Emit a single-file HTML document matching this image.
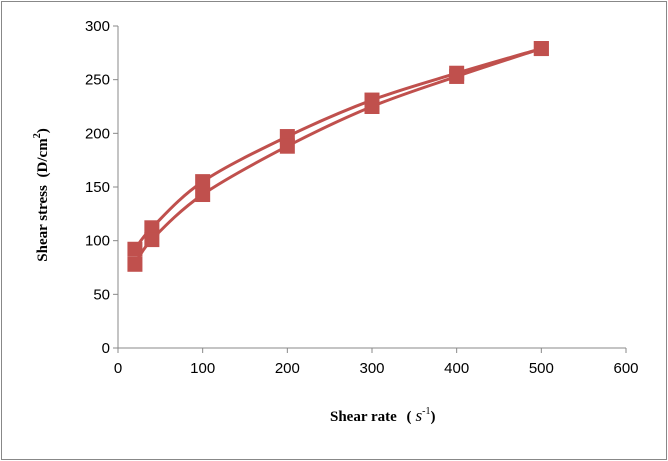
<!DOCTYPE html>
<html><head><meta charset="utf-8"><style>
body{margin:0;background:#fff}
svg{display:block;font-family:"Liberation Serif",serif}
</style></head><body>
<svg width="668" height="461">
<rect x="1.5" y="1.5" width="665" height="458" fill="#fff" stroke="#888"/>
<g id="axes"></g>
<g id="series"></g>
<text x="330" y="421" font-size="15" font-weight="bold">Shear rate <tspan dx="6">(</tspan><tspan dx="4" font-style="italic" font-weight="normal" font-size="17">s</tspan><tspan font-size="10" dy="-7" font-weight="normal">-1</tspan><tspan dy="7">)</tspan></text>
<text transform="translate(47,195) rotate(-90)" text-anchor="middle" font-size="15" font-weight="bold">Shear stress <tspan dx="4">(D/cm</tspan><tspan font-size="10" dy="-7">2</tspan><tspan dy="7">)</tspan></text>
</svg>
<script>
const xVals=[20,40,100,200,300,400,500];
const upSeries=[92,112,155,197,231,256,279];
const downSeries=[78,101,143,188,225,253,279];
const xTicks=[0,100,200,300,400,500,600];
const yTicks=[0,50,100,150,200,250,300];
const NS="http://www.w3.org/2000/svg";
const X0=118,X1=626,Y0=348,Y1=26;
const sx=v=>X0+(v/600)*(X1-X0);
const sy=v=>Y0-(v/300)*(Y0-Y1);
const axes=document.getElementById('axes');
function mk(t,a,p){const e=document.createElementNS(NS,t);for(const k in a)e.setAttribute(k,a[k]);p.appendChild(e);return e;}
let l=mk('line',{x1:X0,y1:Y1,x2:X0,y2:Y0,stroke:'#888'},axes);


l=mk('line',{x1:X0,y1:Y0,x2:X1,y2:Y0,stroke:'#888'},axes);


yTicks.forEach(v=>{const y=sy(v);mk('line',{x1:X0-5,y1:y,x2:X0,y2:y,stroke:'#888'},axes);
const t=mk('text',{x:X0-8,y:y+5,'text-anchor':'end','font-size':15,'font-family':'Liberation Sans'},axes);t.textContent=v;

});
xTicks.forEach(v=>{const x=sx(v);mk('line',{x1:x,y1:Y0,x2:x,y2:Y0+5,stroke:'#888'},axes);
const t=mk('text',{x:x,y:Y0+25,'text-anchor':'middle','font-size':15,'font-family':'Liberation Sans'},axes);t.textContent=v;

});
const sg=document.getElementById('series');
function smooth(pts){let d=`M${pts[0][0]},${pts[0][1]}`;for(let i=0;i<pts.length-1;i++){const p0=pts[i-1]||pts[i],p1=pts[i],p2=pts[i+1],p3=pts[i+2]||p2;
const c1=[p1[0]+(p2[0]-p0[0])/6,p1[1]+(p2[1]-p0[1])/6],c2=[p2[0]-(p3[0]-p1[0])/6,p2[1]-(p3[1]-p1[1])/6];
d+=`C${c1[0]},${c1[1]} ${c2[0]},${c2[1]} ${p2[0]},${p2[1]}`;}return d;}
[[upSeries,'up'],[downSeries,'down']].forEach(([s,n])=>{const pts=xVals.map((x,i)=>[sx(x),sy(s[i])]);
const p=mk('path',{d:smooth(pts),fill:'none',stroke:'#c0504d','stroke-width':3},sg);


pts.forEach(q=>{const r=mk('rect',{x:q[0]-7.5,y:q[1]-7.5,width:15,height:15,fill:'#c0504d'},sg);

});});
</script>
</body></html>
